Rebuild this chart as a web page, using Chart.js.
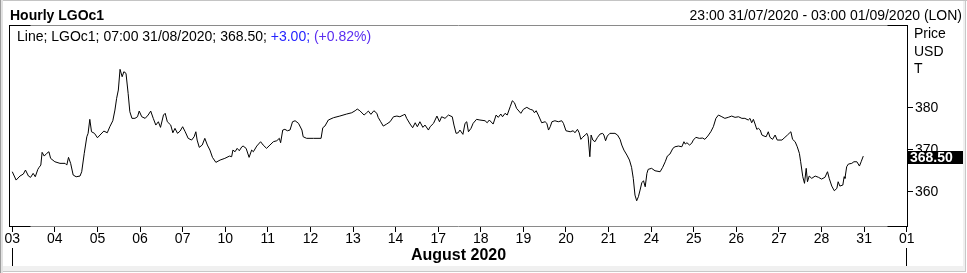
<!DOCTYPE html>
<html><head><meta charset="utf-8">
<script src="https://cdn.jsdelivr.net/npm/chart.js@4/dist/chart.umd.min.js"></script>
<style>html,body{margin:0;padding:0;background:#fff;overflow:hidden}canvas{display:block}</style>
</head><body>
<canvas id="c" width="967" height="273"></canvas>
<script>
const FONT = '"Liberation Sans", Arial, sans-serif';
const chartTitle = 'Hourly LGOc1';
const dateRange = '23:00 31/07/2020 - 03:00 01/09/2020 (LON)';
const monthLabel = 'August 2020';
const dayLabels = ['03','04','05','06','07','10','11','12','13','14','17','18','19','20','21','24','25','26','27','28','31','01'];
const yTickValues = [360, 370, 380];
const unitLabels = ['Price', 'USD', 'T'];
const legendParts = [
  ['Line; LGOc1; 07:00 31/08/2020; 368.50; ', '#000000'],
  ['+3.00; ', '#2323ff'],
  ['(+0.82%)', '#5a2df0']
];
const lastPrice = 368.50;

// time in trading days since 03 Aug (fractional), and hourly price
const times = [0,0.09,0.18,0.26,0.31,0.38,0.43,0.49,0.54,0.60,0.63,0.67,0.70,0.75,0.81,0.86,0.90,1.00,1.12,1.24,1.28,1.32,1.37,1.43,1.50,1.59,1.63,1.69,1.75,1.78,1.82,1.86,1.93,2.00,2.06,2.15,2.23,2.29,2.36,2.41,2.45,2.49,2.53,2.58,2.62,2.67,2.72,2.76,2.81,2.88,2.94,2.98,3.04,3.12,3.19,3.25,3.31,3.37,3.43,3.48,3.55,3.59,3.64,3.72,3.77,3.82,3.88,3.94,4.00,4.06,4.13,4.21,4.27,4.31,4.34,4.39,4.46,4.52,4.58,4.64,4.70,4.78,4.88,4.99,5.10,5.15,5.18,5.23,5.28,5.33,5.39,5.42,5.49,5.56,5.62,5.66,5.74,5.83,5.89,5.97,6.05,6.13,6.21,6.27,6.30,6.35,6.40,6.46,6.52,6.58,6.64,6.72,6.80,6.83,6.91,7.07,7.25,7.29,7.34,7.42,7.54,7.69,7.85,7.97,8.05,8.10,8.16,8.26,8.32,8.36,8.42,8.49,8.56,8.59,8.65,8.71,8.79,8.87,8.95,9.03,9.10,9.18,9.22,9.26,9.34,9.40,9.46,9.51,9.57,9.64,9.69,9.77,9.81,9.89,9.97,10.03,10.08,10.16,10.24,10.33,10.37,10.42,10.47,10.51,10.58,10.63,10.67,10.71,10.77,10.82,10.90,10.98,11.10,11.15,11.20,11.29,11.36,11.41,11.47,11.51,11.57,11.62,11.69,11.74,11.79,11.84,11.94,12.00,12.08,12.16,12.22,12.26,12.30,12.35,12.43,12.51,12.55,12.59,12.63,12.67,12.74,12.82,12.90,12.94,13.00,13.10,13.17,13.21,13.27,13.31,13.35,13.39,13.45,13.49,13.52,13.56,13.59,13.63,13.68,13.74,13.80,13.86,13.89,13.93,13.97,14.03,14.15,14.21,14.27,14.31,14.36,14.43,14.49,14.54,14.58,14.62,14.66,14.70,14.74,14.78,14.82,14.86,14.90,14.93,15.01,15.09,15.21,15.27,15.33,15.38,15.44,15.51,15.56,15.64,15.72,15.77,15.80,15.84,15.90,15.95,15.99,16.05,16.13,16.21,16.26,16.33,16.40,16.46,16.52,16.58,16.66,16.73,16.81,16.89,16.97,17.05,17.13,17.20,17.28,17.32,17.36,17.40,17.44,17.48,17.52,17.56,17.60,17.65,17.70,17.75,17.79,17.85,17.91,17.96,18.07,18.14,18.20,18.24,18.28,18.32,18.38,18.43,18.48,18.51,18.56,18.60,18.64,18.67,18.71,18.77,18.85,18.93,19.00,19.08,19.14,19.18,19.24,19.30,19.36,19.39,19.43,19.50,19.53,19.55,19.59,19.63,19.71,19.76,19.83,19.89,19.93,19.98];
const prices = [364.77,362.78,363.74,364.22,365.17,363.74,363.43,364.38,363.57,365.34,365.82,366.36,369.40,368.51,369.16,369.54,367.96,367.15,366.77,366.77,366.36,368.20,366.77,363.98,363.57,363.74,364.77,369.16,373.12,373.93,377.27,374.31,373.93,372.88,373.53,374.48,374.07,375.51,376.94,379.49,382.29,384.27,389.21,387.44,388.64,388.25,383.48,379.09,377.51,377.51,377.89,379.25,377.89,377.51,378.30,379.25,377.51,375.91,376.70,375.36,378.30,378.71,376.70,375.91,374.07,375.12,373.93,374.48,375.51,374.31,372.74,372.33,373.12,374.31,372.33,370.59,371.14,372.74,371.14,369.94,368.20,367.01,367.56,367.96,368.51,368.35,369.94,369.54,370.35,369.78,370.73,370.90,370.35,368.20,369.94,369.54,370.90,371.93,371.14,370.35,371.14,371.93,372.17,372.74,371.69,374.72,374.89,374.55,374.72,376.70,376.94,376.32,374.72,373.12,372.74,372.74,372.74,375.27,375.67,377.11,377.66,378.06,378.54,378.85,379.33,379.73,379.33,378.30,378.85,379.25,378.47,379.33,378.71,377.75,376.70,375.67,376.15,376.70,377.89,378.06,377.89,378.30,378.47,377.51,376.15,375.27,376.46,375.51,376.70,375.36,375.91,374.72,375.51,376.32,378.06,376.70,377.89,377.51,378.30,377.89,375.91,373.93,374.07,374.72,373.69,376.32,376.70,374.31,375.12,376.32,377.27,377.11,376.94,376.46,377.11,376.15,378.30,377.75,378.54,377.89,378.71,378.30,380.28,381.71,381.24,379.90,378.71,379.66,380.14,379.66,379.49,378.85,379.33,378.30,376.46,376.70,376.32,374.72,375.51,376.70,376.94,376.70,376.94,376.32,374.55,374.31,374.55,374.07,374.89,374.07,372.50,372.98,373.53,373.93,373.12,368.35,373.53,372.33,371.93,372.98,373.76,373.93,373.53,372.17,373.29,373.93,373.93,373.53,372.50,371.14,369.94,368.75,367.56,365.82,363.19,359.20,357.84,358.80,360.40,362.14,362.62,361.18,364.38,365.34,365.58,365.00,364.77,365.82,367.15,368.51,368.99,370.35,370.73,370.90,370.73,371.93,371.38,371.69,371.14,371.54,372.33,372.98,372.74,372.81,372.50,373.29,374.31,375.51,377.51,378.30,377.89,377.51,377.75,378.06,377.75,377.89,377.51,377.51,377.11,377.51,376.46,377.27,376.15,374.89,375.12,374.72,373.53,373.29,373.12,374.31,372.98,372.50,373.53,372.33,372.33,372.98,373.53,373.93,374.31,372.50,371.93,370.73,369.16,367.15,363.57,362.00,365.58,362.38,363.74,363.19,363.74,363.43,363.02,363.43,364.77,363.19,361.35,360.23,360.80,362.38,361.35,361.59,363.57,363.19,365.96,366.60,366.77,367.15,367.15,366.13,367.15,368.50];

const framePlugin = {
  id: 'frame',
  beforeDraw(chart) {
    const c = chart.ctx;
    c.save();
    c.fillStyle = '#ffffff';
    c.fillRect(0, 0, chart.width, chart.height);
    c.fillStyle = '#c4c4c4'; c.fillRect(0, 0, 967, 1);
    c.fillStyle = '#9c9c9c'; c.fillRect(0, 0, 1, 273);
    c.fillStyle = '#e2e2e2'; c.fillRect(1, 0, 2, 273);
    c.fillStyle = '#f0f0f0'; c.fillRect(3, 266, 962, 5);
    c.fillStyle = '#f0f0f0'; c.fillRect(963, 1, 2, 270);
    c.fillStyle = '#c8c8c8'; c.fillRect(3, 271, 963, 1);
    c.fillStyle = '#c8c8c8'; c.fillRect(965, 1, 1, 271);
    c.restore();
  },
  afterDraw(chart) {
    const c = chart.ctx;
    const a = chart.chartArea;
    const xs = chart.scales.x, ys = chart.scales.y;
    c.save();
    const L = Math.round(a.left) + 0.5, R = Math.round(a.right) - 0.5;
    const T = Math.round(a.top) + 0.5, B = Math.round(a.bottom) - 0.5;
    c.lineWidth = 1;
    c.strokeStyle = '#8a8a8a';
    c.beginPath();
    c.moveTo(L, T); c.lineTo(R, T);
    c.moveTo(L, B); c.lineTo(R, B);
    c.stroke();
    c.strokeStyle = '#000';
    c.beginPath();
    c.moveTo(L, T - 0.5); c.lineTo(L, B + 0.5);
    c.moveTo(R, T - 0.5); c.lineTo(R, B + 0.5);
    c.moveTo(L, T); c.lineTo(L + 21, T);
    c.moveTo(R - 20, T); c.lineTo(R, T);
    c.moveTo(L, B); c.lineTo(L + 21, B);
    c.moveTo(R - 20, B); c.lineTo(R, B);
    c.stroke();
    const x0 = Math.round(xs.getPixelForValue(0)) + 0.5;
    const x1 = Math.round(xs.getPixelForValue(dayLabels.length - 1)) - 0.5;
    c.beginPath();
    c.moveTo(x0, 248); c.lineTo(x0, 266);
    c.moveTo(x1, 248); c.lineTo(x1, 266);
    c.stroke();
    c.fillStyle = '#000';
    c.textBaseline = 'alphabetic';
    c.font = 'bold 14px ' + FONT;
    c.textAlign = 'left';
    c.fillText(chartTitle, 10, 20);
    c.font = '14px ' + FONT;
    c.textAlign = 'right';
    c.fillText(dateRange, 962, 20);
    c.textAlign = 'left';
    let lx = 17;
    for (const [txt, col] of legendParts) {
      c.fillStyle = col;
      c.fillText(txt, lx, 41);
      lx += c.measureText(txt).width;
    }
    c.fillStyle = '#000';
    const ub = [38, 56, 73];
    unitLabels.forEach((t, i) => c.fillText(t, a.right + 6, ub[i]));
    const py = Math.round(ys.getPixelForValue(lastPrice));
    c.fillStyle = '#000';
    c.fillRect(a.right, py - 5, 55, 13);
    c.fillStyle = '#fff';
    c.font = 'bold 14px ' + FONT;
    c.fillText(lastPrice.toFixed(2), a.right + 2, py + 6);
    c.restore();
  }
};

new Chart(document.getElementById('c').getContext('2d'), {
  type: 'line',
  data: {
    datasets: [{
      data: times.map((t, i) => ({ x: t, y: prices[i] })),
      borderColor: '#000',
      borderWidth: 1,
      pointRadius: 0,
      tension: 0,
      fill: false
    }]
  },
  options: {
    responsive: false,
    animation: false,
    devicePixelRatio: 1,
    layout: { padding: { left: 9, top: 25, right: 0, bottom: 0 } },
    plugins: { legend: { display: false }, tooltip: { enabled: false }, title: { display: false } },
    scales: {
      x: {
        type: 'linear', position: 'bottom', min: -0.077, max: 21.03,
        afterBuildTicks: s => { s.ticks = dayLabels.map((_, i) => ({ value: i })); },
        afterFit: s => { s.height = 46; },
        grid: { drawOnChartArea: false, drawTicks: true, tickLength: 5, color: '#000', lineWidth: 1 },
        border: { display: false },
        ticks: {
          autoSkip: false, maxRotation: 0, minRotation: 0, padding: -1, color: '#000',
          font: { family: FONT, size: 14 },
          callback: (v, i) => dayLabels[i]
        },
        title: {
          display: true, text: monthLabel, color: '#000',
          font: { family: FONT, size: 16, weight: 'bold' },
          padding: { top: 0, bottom: 7.6 }
        }
      },
      y: {
        type: 'linear', position: 'right', min: 351.58, max: 399.79,
        afterBuildTicks: s => { s.ticks = yTickValues.map(v => ({ value: v })); },
        afterFit: s => { s.width = 59; },
        grid: { drawOnChartArea: false, drawTicks: true, tickLength: 5, color: '#000', lineWidth: 1 },
        border: { display: false },
        ticks: { padding: 2, color: '#000', font: { family: FONT, size: 14 }, callback: v => String(v) }
      }
    }
  },
  plugins: [framePlugin]
});
</script>
</body></html>
